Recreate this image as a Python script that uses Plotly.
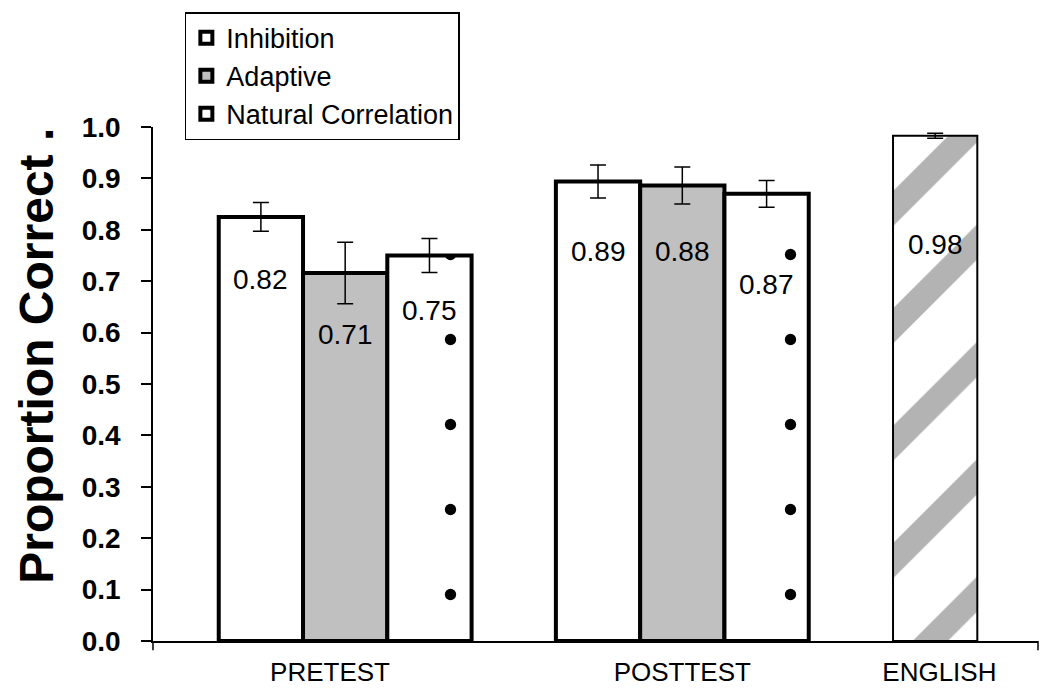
import plotly.graph_objects as go

# ---- data ----
categories = ["PRETEST", "POSTTEST", "ENGLISH"]
series_names = ["Inhibition", "Adaptive", "Natural Correlation"]
inhibition = [0.825, 0.894]
adaptive = [0.716, 0.886]
natural = [0.750, 0.870]
english = [0.983]
inhibition_err = [0.028, 0.032]
adaptive_err = [0.060, 0.036]
natural_err = [0.033, 0.026]
english_err = [0.005]
inhibition_labels = ["0.82", "0.89"]
adaptive_labels = ["0.71", "0.88"]
natural_labels = ["0.75", "0.87"]
english_labels = ["0.98"]

# ---- layout helpers (positions / styles) ----
group_centers = [2.25, 6.25, 9.25]
category_label_pos = [2.07, 6.25, 9.3]
bar_offsets = [-1, 0, 1]
label_offsets = {
    "Inhibition": [63, 70],
    "Adaptive": [62, 66],
    "Natural Correlation": [55, 91],
    "English": [109],
}
FONT = "Liberation Sans, Arial, sans-serif"

fig = go.Figure()

series = [
    ("Inhibition", inhibition, inhibition_err, inhibition_labels,
     dict(color="white", line=dict(color="black", width=4))),
    ("Adaptive", adaptive, adaptive_err, adaptive_labels,
     dict(color="#c0c0c0", line=dict(color="black", width=4))),
    ("Natural Correlation", natural, natural_err, natural_labels,
     dict(color="white", line=dict(color="black", width=4),
          pattern=dict(shape=".", fgcolor="black", bgcolor="white",
                       size=85, solidity=0.014, fillmode="replace"))),
]

annotations = []
for i, (name, vals, errs, labels, marker) in enumerate(series):
    xs = [group_centers[g] + bar_offsets[i] for g in range(len(vals))]
    fig.add_trace(go.Bar(
        name=name, x=xs, y=vals, width=1, marker=marker,
        error_y=dict(type="data", array=errs, color="black",
                     thickness=1.5, width=8),
        showlegend=True,
    ))
    for x, v, lab, off in zip(xs, vals, labels, label_offsets[name]):
        annotations.append(dict(x=x, y=v, xref="x", yref="y", text=lab,
                                showarrow=False, yshift=-off,
                                font=dict(family=FONT, size=28, color="black")))

xs_e = [group_centers[2]]
fig.add_trace(go.Bar(
    name="English", x=xs_e, y=english, width=1,
    marker=dict(color="white", line=dict(color="black", width=2),
                pattern=dict(shape="/", fgcolor="#b3b3b3", bgcolor="white",
                             size=83, solidity=0.3, fillmode="replace")),
    error_y=dict(type="data", array=english_err, color="black",
                 thickness=1.5, width=8),
    showlegend=False,
))
for x, v, lab, off in zip(xs_e, english, english_labels, label_offsets["English"]):
    annotations.append(dict(x=x, y=v, xref="x", yref="y", text=lab,
                            showarrow=False, yshift=-off,
                            font=dict(family=FONT, size=28, color="black")))

# y-axis title as rotated annotation
annotations.append(dict(
    x=-0.131, y=0.555, xref="paper", yref="paper",
    text="<b>Proportion Correct .</b>", textangle=-90, showarrow=False,
    font=dict(family=FONT, size=48, color="black"),
    xanchor="center", yanchor="middle"))

shapes = [
    dict(type="line", xref="paper", yref="paper", x0=0, x1=0, y0=0, y1=-0.018,
         line=dict(color="black", width=1.5)),
    dict(type="line", xref="paper", yref="paper", x0=1, x1=1, y0=0, y1=-0.018,
         line=dict(color="black", width=1.5)),
    dict(type="line", xref="paper", yref="paper", x0=-0.013, x1=0, y0=0, y1=0,
         line=dict(color="black", width=1.5)),
]

# page body has an 8px margin, so the figure is sized/placed to compensate
fig.update_layout(
    width=1034, height=684,
    margin=dict(l=145, r=4, t=119, b=51, autoexpand=False),
    plot_bgcolor="white", paper_bgcolor="white",
    barmode="overlay",
    font=dict(family=FONT, color="black"),
    xaxis=dict(range=[-0.03, 10.47], tickvals=category_label_pos, ticktext=categories,
               showline=True, linecolor="black", linewidth=1.5,
               ticks="", showgrid=False, zeroline=False,
               tickfont=dict(family=FONT, size=26, color="black"),
               ticklabelstandoff=7, fixedrange=True),
    yaxis=dict(range=[0, 1.0], tickvals=[i / 10 for i in range(11)],
               ticktext=[f"{i / 10:.1f}" for i in range(11)],
               showline=True, linecolor="black", linewidth=1.5,
               ticks="outside", ticklen=10, tickwidth=1.5, tickcolor="black",
               showgrid=False, zeroline=False,
               tickfont=dict(family=FONT, size=28, color="black", weight="bold"),
               ticklabelstandoff=15),
    legend=dict(x=0.036, y=1.2235, xanchor="left", yanchor="top",
                bgcolor="white", bordercolor="black", borderwidth=1.5,
                font=dict(family=FONT, size=27, color="black"),
                traceorder="normal", itemwidth=30, tracegroupgap=0),
    annotations=annotations,
    shapes=shapes,
)

fig.write_html("out.html")
